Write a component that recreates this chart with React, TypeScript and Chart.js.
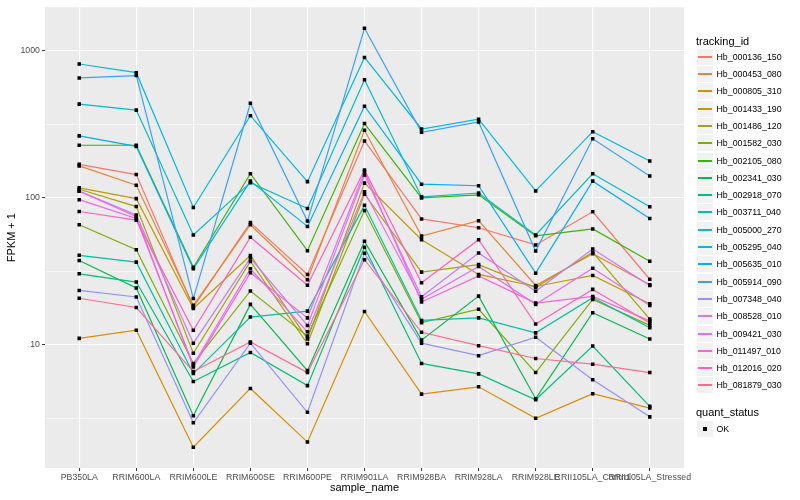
import React, { useEffect, useRef } from "react";
import { Chart, registerables } from "chart.js";

Chart.register(...registerables);

const categories = [
  "PB350LA", "RRIM600LA", "RRIM600LE", "RRIM600SE", "RRIM600PE", "RRIM901LA",
  "RRIM928BA", "RRIM928LA", "RRIM928LE", "RRII105LA_Control", "RRII105LA_Stressed",
];

const trackingIds = [
  "Hb_000136_150", "Hb_000453_080", "Hb_000805_310", "Hb_001433_190", "Hb_001486_120",
  "Hb_001582_030", "Hb_002105_080", "Hb_002341_030", "Hb_002918_070", "Hb_003711_040",
  "Hb_005000_270", "Hb_005295_040", "Hb_005635_010", "Hb_005914_090", "Hb_007348_040",
  "Hb_008528_010", "Hb_009421_030", "Hb_011497_010", "Hb_012016_020", "Hb_081879_030",
];

const colors = [
  "#F8766D", "#EA8331", "#D89000", "#C09B00", "#A3A500", "#7CAE00", "#39B600", "#00BB4E",
  "#00BF7D", "#00C1A3", "#00BFC4", "#00BAE0", "#00B0F6", "#35A2FF", "#9590FF", "#C77CFF",
  "#E76BF3", "#FA62DB", "#FF62BC", "#FF6C91",
];

const hb_000136_150 = [169, 144, 18.1, 68, 30.2, 244, 72, 62.7, 47.9, 80.4, 28];
const hb_000453_080 = [165, 122, 18.6, 65.7, 27.8, 288, 55, 70, 25.4, 41.7, 25.7];
const hb_000805_310 = [11.1, 12.6, 2.02, 5.07, 2.19, 16.9, 4.64, 5.2, 3.18, 4.67, 3.73];
const hb_001433_190 = [117, 98.9, 17.7, 40.6, 11, 126, 52, 30.2, 25, 29.7, 19.1];
const hb_001486_120 = [114.5, 87.3, 8.8, 37, 10.2, 106, 31.3, 35.2, 24.6, 42.7, 15];
const hb_001582_030 = [65.7, 44.5, 7.5, 23.3, 11.5, 82, 14.2, 17.5, 6.5, 20.4, 13.6];
const hb_002105_080 = [228, 228, 33.8, 146, 43.8, 320, 100, 105, 55.3, 61.5, 37.1];
const hb_002341_030 = [37.5, 24.4, 3.31, 18.9, 6.7, 50.7, 10.8, 21.5, 4.32, 16.6, 11];
const hb_002918_070 = [30.5, 26.8, 5.65, 8.9, 5.3, 46.2, 7.5, 6.37, 4.25, 9.85, 3.83];
const hb_003711_040 = [40.7, 36.6, 6.4, 15.5, 17, 89, 14.7, 15.3, 12.1, 21, 13.1];
const hb_005000_270 = [434, 395, 56, 127, 84.7, 636, 101.6, 108, 56, 146, 87];
const hb_005295_040 = [813, 710, 86, 362, 129, 901, 294, 343, 111.5, 282, 178];
const hb_005635_010 = [264, 224, 33, 130, 64, 420, 124, 121, 30.8, 130, 72.5];
const hb_005914_090 = [654, 678, 20.7, 440, 69.6, 1423, 279, 328, 43.5, 252, 141];
const hb_007348_040 = [23.5, 21.2, 2.96, 10.3, 3.49, 42, 10.3, 8.47, 11.3, 5.8, 3.25];
const hb_008528_010 = [111.5, 76.5, 10.3, 39, 13.6, 143, 21.3, 42.2, 23.2, 45, 25.4];
const hb_009421_030 = [97.3, 72.5, 7.3, 33, 12.3, 110, 20.5, 34.2, 18.9, 33.3, 18.6];
const hb_011497_010 = [111, 74.7, 7.1, 31, 15.3, 150.5, 19.6, 29.5, 19.3, 21.4, 14.6];
const hb_012016_020 = [80.8, 70.6, 12.6, 54, 25.5, 155, 26.5, 52, 13.9, 23.9, 14.1];
const hb_081879_030 = [20.8, 18, 6.6, 10.5, 6.5, 38, 12.2, 9.9, 8.1, 7.41, 6.5];

const seriesValues = [
  hb_000136_150, hb_000453_080, hb_000805_310, hb_001433_190, hb_001486_120,
  hb_001582_030, hb_002105_080, hb_002341_030, hb_002918_070, hb_003711_040,
  hb_005000_270, hb_005295_040, hb_005635_010, hb_005914_090, hb_007348_040,
  hb_008528_010, hb_009421_030, hb_011497_010, hb_012016_020, hb_081879_030,
];

const yMajorTicks = [10, 100, 1000];
const yMinorTicks = [3.1623, 31.623, 316.23];

const FONT = "'Liberation Sans', Arial, Helvetica, sans-serif";

const panelBg = {
  id: "panelBg",
  beforeDraw(chart: any) {
    const { ctx, chartArea } = chart;
    ctx.save();
    ctx.fillStyle = "#EBEBEB";
    ctx.fillRect(chartArea.left, chartArea.top, chartArea.right - chartArea.left, chartArea.bottom - chartArea.top);
    ctx.restore();
  },
};

const isMajor = (v: number) => yMajorTicks.some((m) => Math.abs(m - v) < 1e-6);

export default function App() {
  const ref = useRef<HTMLCanvasElement | null>(null);

  useEffect(() => {
    if (!ref.current) return;
    const lineSets = seriesValues.map((vals, i) => ({
      type: "line" as const,
      label: trackingIds[i],
      data: vals.map((v, j) => ({ x: j, y: v })),
      borderColor: colors[i],
      backgroundColor: colors[i],
      borderWidth: 1.2,
      pointRadius: 0,
      fill: false,
      tension: 0,
      order: 20 - i,
    }));
    const pointSet = {
      type: "scatter" as const,
      label: "OK",
      data: seriesValues.flatMap((vals) => vals.map((v, j) => ({ x: j, y: v }))),
      backgroundColor: "#000000",
      borderWidth: 0,
      pointStyle: "rect",
      pointRadius: 2.5,
      showLine: false,
      order: -1,
    };
    const chart = new Chart(ref.current, {
      type: "line",
      data: { datasets: [...lineSets, pointSet] as any },
      plugins: [panelBg],
      options: {
        animation: false,
        responsive: false,
        devicePixelRatio: 1,
        layout: { padding: { top: 5, right: 116, left: 0, bottom: 0 } },
        plugins: { legend: { display: false }, tooltip: { enabled: false } },
        scales: {
          x: {
            type: "linear",
            min: -0.6,
            max: 10.6,
            afterBuildTicks: (s: any) => {
              s.ticks = categories.map((_, i) => ({ value: i }));
            },
            afterFit: (s: any) => {
              s.height = 32;
              s.paddingLeft = 0;
              s.paddingRight = 0;
            },
            ticks: {
              autoSkip: false,
              maxRotation: 0,
              minRotation: 0,
              padding: 1,
              color: "#4D4D4D",
              font: { family: FONT, size: 8.8 },
              callback: (v: any) => categories[Math.round(Number(v))] ?? "",
            },
            grid: { color: "#FFFFFF", lineWidth: 1.1, tickLength: 3, tickColor: "#333333", tickWidth: 1 },
            border: { display: false },
            title: {
              display: true,
              text: "sample_name",
              color: "#000000",
              font: { family: FONT, size: 11 },
              padding: { top: 0, bottom: 5 },
            },
          },
          y: {
            type: "logarithmic",
            min: 1.46,
            max: 1975,
            afterBuildTicks: (s: any) => {
              s.ticks = [...yMinorTicks, ...yMajorTicks].sort((a, b) => a - b).map((v) => ({ value: v }));
            },
            afterFit: (s: any) => {
              s.width = 45;
            },
            ticks: {
              padding: 2,
              color: "#4D4D4D",
              font: { family: FONT, size: 8.8 },
              callback: (v: any) => (isMajor(Number(v)) ? String(Math.round(Number(v))) : ""),
            },
            grid: {
              color: "#FFFFFF",
              lineWidth: (c: any) => (isMajor(c.tick?.value) ? 1.1 : 0.55),
              tickLength: 3,
              tickColor: (c: any) => (isMajor(c.tick?.value) ? "#333333" : "rgba(0,0,0,0)"),
              tickWidth: 1,
            },
            border: { display: false },
            title: {
              display: true,
              text: "FPKM + 1",
              color: "#000000",
              font: { family: FONT, size: 11 },
              padding: { top: 5, bottom: 0 },
            },
          },
        },
      } as any,
    });
    return () => chart.destroy();
  }, []);

  const legendTop = 56.7;
  const step = 17.3;

  return (
    <div style={{ position: "fixed", left: 0, top: 0, width: 800, height: 500, background: "#FFFFFF", fontFamily: FONT }}>
      <canvas ref={ref} width={800} height={500} style={{ position: "absolute", left: 0, top: 0, width: 800, height: 500 }} />
      <div style={{ position: "absolute", left: 696, top: 33.5, fontSize: 11, lineHeight: "14px", color: "#000", whiteSpace: "nowrap" }}>
        tracking_id
      </div>
      {trackingIds.map((id, i) => {
        const cy = legendTop + step * i;
        const ry = Math.round(cy);
        return (
          <React.Fragment key={id}>
            <div style={{ position: "absolute", left: 697, top: ry - 8, width: 16, height: 16, background: "#F2F2F2" }} />
            <div style={{ position: "absolute", left: 698, top: ry - 1, width: 14, height: 1.5, background: colors[i] }} />
            <div style={{ position: "absolute", left: 716.5, top: cy - 6, fontSize: 8.8, lineHeight: "12px", color: "#000", whiteSpace: "nowrap" }}>
              {id}
            </div>
          </React.Fragment>
        );
      })}
      <div style={{ position: "absolute", left: 696, top: 405.3, fontSize: 11, lineHeight: "14px", color: "#000", whiteSpace: "nowrap" }}>
        quant_status
      </div>
      <div style={{ position: "absolute", left: 697, top: 421, width: 16, height: 16, background: "#F2F2F2" }} />
      <div style={{ position: "absolute", left: 703, top: 427, width: 4, height: 4, background: "#000" }} />
      <div style={{ position: "absolute", left: 716.5, top: 423.3, fontSize: 8.8, lineHeight: "12px", color: "#000", whiteSpace: "nowrap" }}>
        OK
      </div>
    </div>
  );
}
